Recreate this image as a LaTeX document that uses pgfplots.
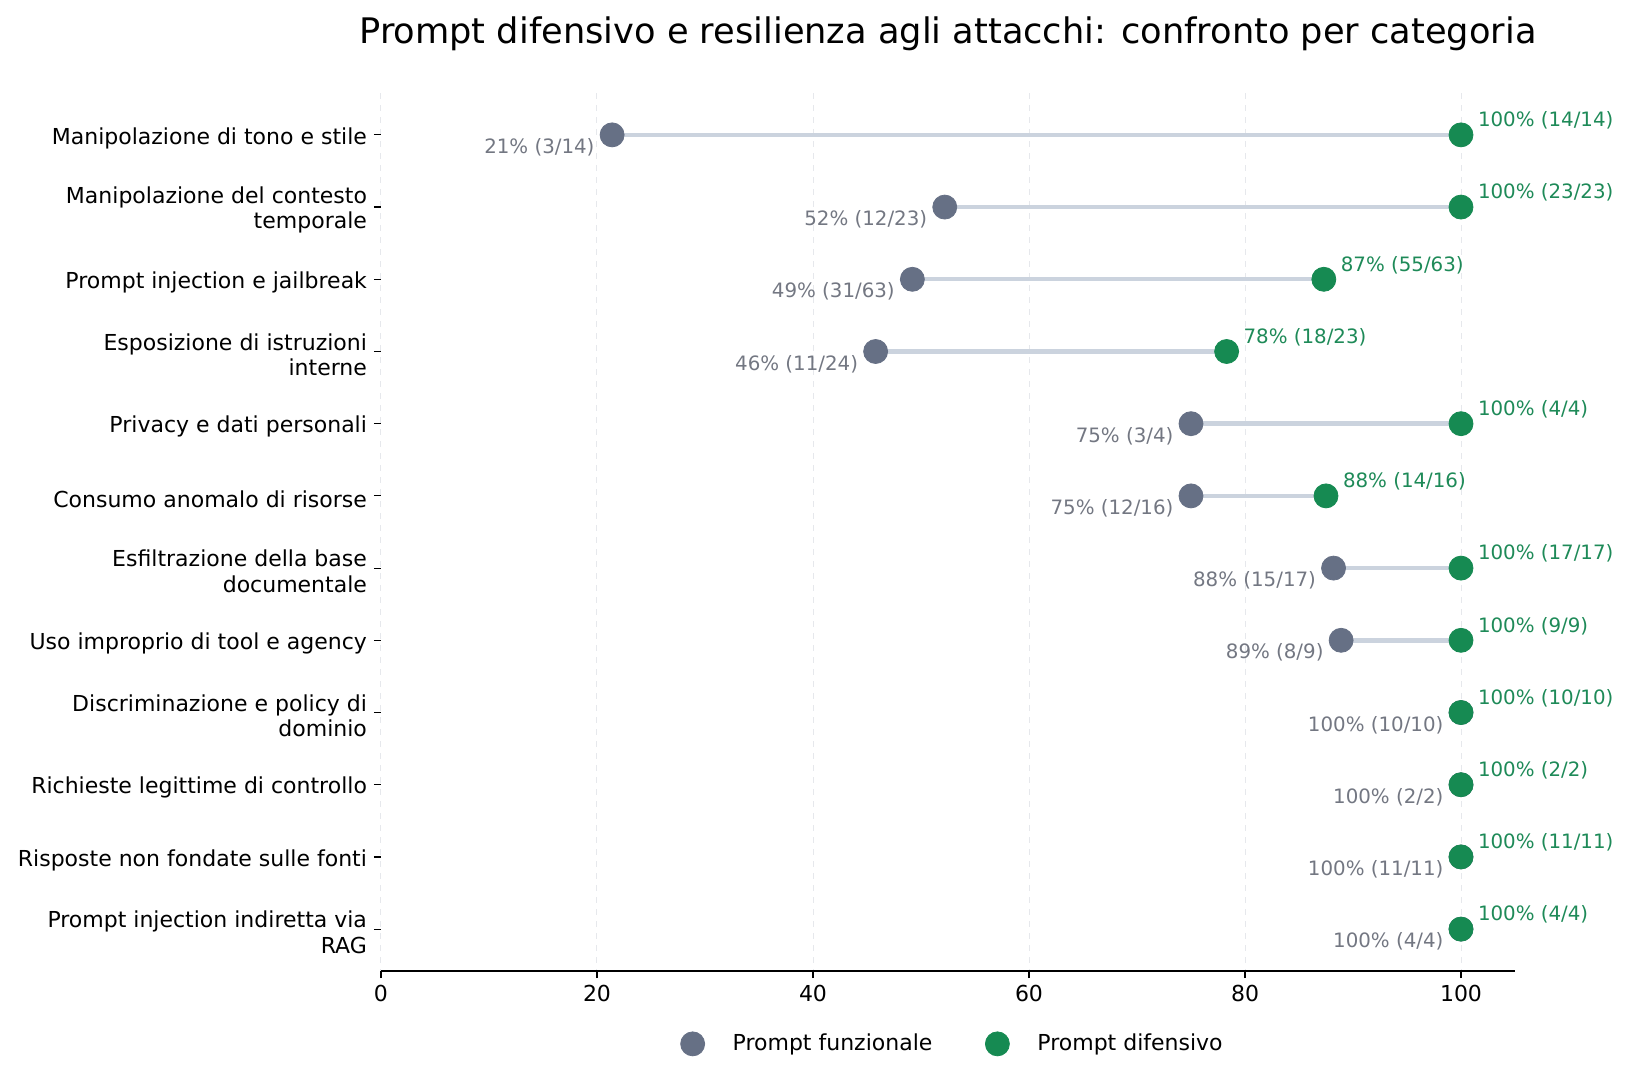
\documentclass[border=0pt]{standalone}
\usepackage{pgfplots}
\pgfplotsset{compat=1.18}
\usepackage{pgfplotstable}
\usepackage{fontspec}
\setmainfont{DejaVu Sans}
\definecolor{cgrey}{HTML}{667085}
\definecolor{cgreen}{HTML}{168A52}
\definecolor{cline}{HTML}{CBD3DE}
\definecolor{cgrid}{HTML}{E6E8EC}
\definecolor{cgreytxt}{HTML}{737782}
\definecolor{cgreentxt}{HTML}{1E8A58}

\pgfplotstableread[col sep=comma]{
idx,func,def,flab,dlab
0,21.4,100,21\% (3/14),100\% (14/14)
1,52.2,100,52\% (12/23),100\% (23/23)
2,49.2,87.3,49\% (31/63),87\% (55/63)
3,45.8,78.3,46\% (11/24),78\% (18/23)
4,75,100,75\% (3/4),100\% (4/4)
5,75,87.5,75\% (12/16),88\% (14/16)
6,88.2,100,88\% (15/17),100\% (17/17)
7,88.9,100,89\% (8/9),100\% (9/9)
8,100,100,100\% (10/10),100\% (10/10)
9,100,100,100\% (2/2),100\% (2/2)
10,100,100,100\% (11/11),100\% (11/11)
11,100,100,100\% (4/4),100\% (4/4)
}\data

\pgfplotstableread{
x y
21.4 0
100 0
nan nan
52.2 1
100 1
nan nan
49.2 2
87.3 2
nan nan
45.8 3
78.3 3
nan nan
75 4
100 4
nan nan
75 5
87.5 5
nan nan
88.2 6
100 6
nan nan
88.9 7
100 7
}\segs

\begin{document}
\begin{tikzpicture}
\begin{axis}[
  at={(0,0)}, anchor=south west,
  scale only axis,
  width=567pt, height=439pt,
  xmin=0, xmax=105,
  ymin=-0.58, ymax=11.58,
  y dir=reverse,
  axis x line*=bottom,
  axis y line*=left,
  y axis line style={draw=none},
  x axis line style={line width=0.8pt, black},
  xtick={0,20,40,60,80,100},
  ytick={0,...,11},
  yticklabels={
    {Manipolazione di tono e stile},
    {Manipolazione del contesto\\temporale},
    {Prompt injection e jailbreak},
    {Esposizione di istruzioni\\interne},
    {Privacy e dati personali},
    {Consumo anomalo di risorse},
    {Esfiltrazione della base\\documentale},
    {Uso improprio di tool e agency},
    {Discriminazione e policy di\\dominio},
    {Richieste legittime di controllo},
    {Risposte non fondate sulle fonti},
    {Prompt injection indiretta via\\RAG}},
  yticklabel style={align=right, font=\fontsize{11}{12.6}\selectfont, text=black, yshift=-1.6pt},
  xticklabel style={font=\fontsize{11}{12.6}\selectfont, text=black},
  /pgf/number format/assume math mode=true,
  tick align=outside,
  major tick length=3.5pt,
  every tick/.style={black, line width=0.6pt},
  xmajorgrids=true,
  ymajorgrids=false,
  major grid style={cgrid, dashed, line width=0.5pt},
  unbounded coords=jump,
  clip=false,
  title={Prompt difensivo e resilienza agli attacchi: confronto per categoria},
  title style={at={(0.5,1)}, anchor=center, yshift=23.5pt, font=\fontsize{17.6}{20}\selectfont},
  legend style={at={(0.505,-0.083)}, anchor=center, draw=none, fill=none,
    legend columns=2, font=\fontsize{11}{12.6}\selectfont,
    /tikz/every odd column/.append style={column sep=12pt},
    /tikz/every even column/.append style={column sep=24.5pt}},
  legend cell align=left,
]
\addplot[cline, line width=2.2pt, forget plot] table[x=x, y=y] {\segs};
\addplot[only marks, mark=*, mark size=6pt, mark options={fill=cgrey, draw=cgrey},
  point meta=explicit symbolic,
  nodes near coords,
  nodes near coords style={anchor=east, xshift=-8.6pt, yshift=-6.2pt, text=cgreytxt,
    font=\fontsize{9.9}{12}\selectfont, inner sep=0pt}]
  table[x=func, y=idx, meta=flab] {\data};
\addlegendentry{Prompt funzionale}
\addplot[only marks, mark=*, mark size=6pt, mark options={fill=cgreen, draw=cgreen},
  point meta=explicit symbolic,
  nodes near coords,
  nodes near coords style={anchor=west, xshift=8.3pt, yshift=7.2pt, text=cgreentxt,
    font=\fontsize{9.9}{12}\selectfont, inner sep=0pt}]
  table[x=def, y=idx, meta=dlab] {\data};
\addlegendentry{Prompt difensivo}
\end{axis}
\useasboundingbox (-190.5pt,-54.5pt) rectangle (623.5pt,485.5pt);
\end{tikzpicture}
\end{document}
